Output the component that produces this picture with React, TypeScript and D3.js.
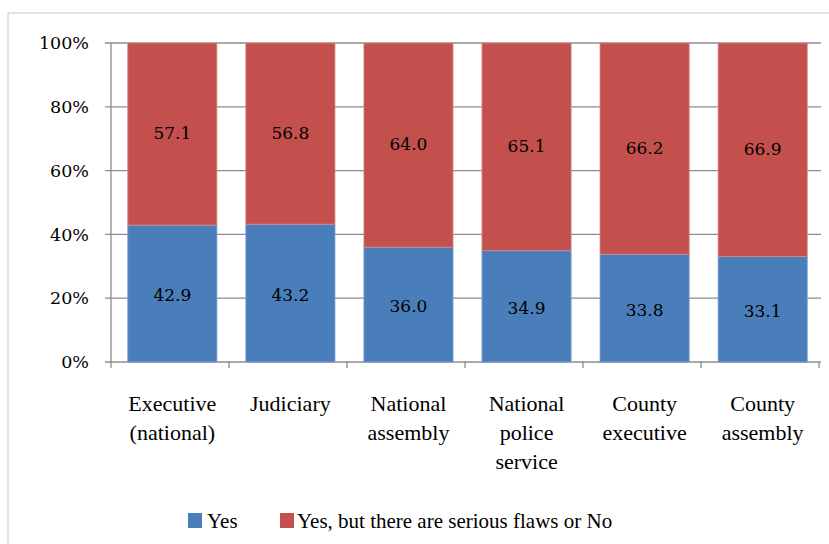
import React from "react";
import * as d3 from "d3";

const categories = [
  ["Executive", "(national)"],
  ["Judiciary"],
  ["National", "assembly"],
  ["National", "police", "service"],
  ["County", "executive"],
  ["County", "assembly"],
];
const yesValues = [42.9, 43.2, 36.0, 34.9, 33.8, 33.1];
const flawValues = [57.1, 56.8, 64.0, 65.1, 66.2, 66.9];
const yTicks = [0, 20, 40, 60, 80, 100];
const seriesNames = ["Yes", "Yes, but there are serious flaws or No"];
const seriesColors = ["#4A7EBB", "#C4504E"];

const W = 829;
const H = 544;
const left = 111;
const right = 819;
const top = 43;
const bottom = 362;

export default function App() {
  const x = d3
    .scaleBand<number>()
    .domain(d3.range(categories.length))
    .range([left + 2, right + 3])
    .paddingInner(0.245)
    .paddingOuter(0.125);
  const y = d3.scaleLinear().domain([0, 100]).range([bottom, top]);
  const numFont = "'DejaVu Serif', serif";
  const textFont = "'Liberation Serif', serif";
  const step = (right - left) / categories.length;

  return (
    <svg
      width={W}
      height={H}
      style={{ position: "absolute", left: 0, top: 0, background: "#fff" }}
    >
      <rect x={8} y={13} width={W + 20} height={H + 20} fill="#fff" stroke="#d9d9d9" strokeWidth={1.5} />
      {yTicks.map((t) => (
        <g key={t}>
          <line x1={105} x2={right + 2} y1={y(t)} y2={y(t)} stroke="#8c8c8c" strokeWidth={1.3} />
          <text
            x={89}
            y={y(t)}
            dy="0.35em"
            textAnchor="end"
            fontFamily={numFont}
            fontSize={17.5}
            fill="#000"
          >
            {t}%
          </text>
        </g>
      ))}
      <line x1={left} x2={left} y1={top} y2={bottom} stroke="#8c8c8c" strokeWidth={1.3} />
      {d3.range(categories.length + 1).map((i) => (
        <line
          key={i}
          x1={left + i * step}
          x2={left + i * step}
          y1={bottom}
          y2={bottom + 6}
          stroke="#8c8c8c"
          strokeWidth={1.3}
        />
      ))}
      {categories.map((c, i) => {
        const bx = x(i)!;
        const bw = x.bandwidth();
        const yv = yesValues[i];
        const fv = flawValues[i];
        return (
          <g key={i}>
            <rect x={bx} y={y(yv)} width={bw} height={y(0) - y(yv)} fill={seriesColors[0]} stroke="#7a9fd0" strokeWidth={0.8} />
            <rect x={bx} y={y(yv + fv)} width={bw} height={y(yv) - y(yv + fv)} fill={seriesColors[1]} stroke="#d98a88" strokeWidth={0.8} />
            <text
              x={bx + bw / 2}
              y={(y(0) + y(yv)) / 2}
              dy="0.45em"
              textAnchor="middle"
              fontFamily={numFont}
              fontSize={17}
              fill="#000"
            >
              {yv.toFixed(1)}
            </text>
            <text
              x={bx + bw / 2}
              y={(y(yv) + y(yv + fv)) / 2}
              dy="0.3em"
              textAnchor="middle"
              fontFamily={numFont}
              fontSize={17}
              fill="#000"
            >
              {fv.toFixed(1)}
            </text>
            {c.map((line, j) => (
              <text
                key={j}
                x={bx + bw / 2}
                y={403 + j * 29}
                dy="0.35em"
                textAnchor="middle"
                fontFamily={textFont}
                fontSize={22}
                fill="#000"
              >
                {line}
              </text>
            ))}
          </g>
        );
      })}
      <g>
        <rect x={188} y={513} width={14} height={15} fill={seriesColors[0]} />
        <text x={207} y={528} fontFamily={textFont} fontSize={21} fill="#000">
          {seriesNames[0]}
        </text>
        <rect x={280} y={513} width={14} height={15} fill={seriesColors[1]} />
        <text x={297} y={528} fontFamily={textFont} fontSize={21} fill="#000">
          {seriesNames[1]}
        </text>
      </g>
    </svg>
  );
}
